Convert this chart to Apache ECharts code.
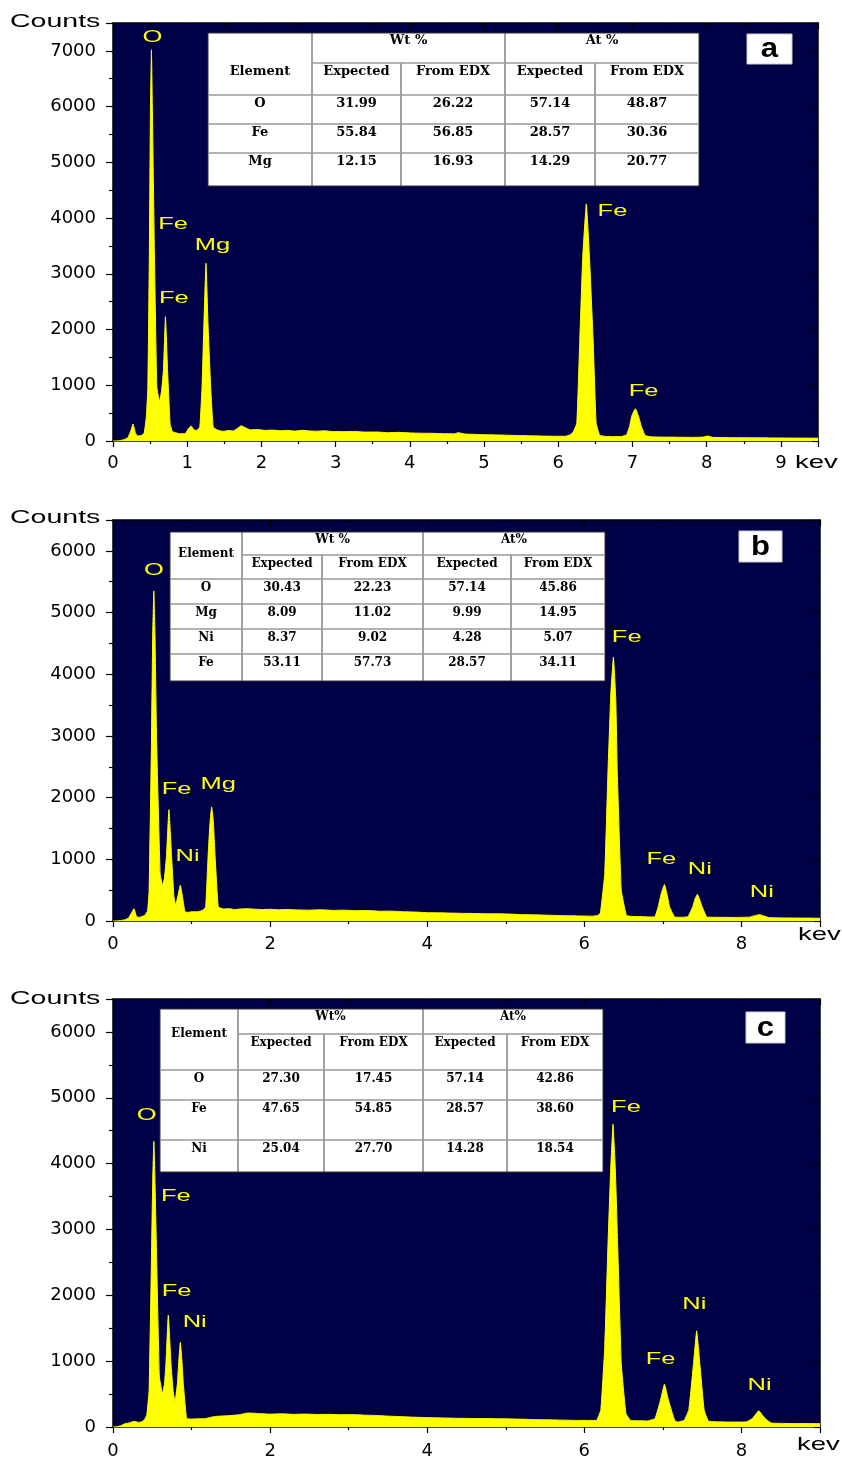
<!DOCTYPE html>
<html>
<head>
<meta charset="utf-8">
<script src="https://cdn.jsdelivr.net/npm/echarts@6/dist/echarts.min.js"></script>
<style>
  html, body { margin: 0; padding: 0; background: #fff; }
  #chart { width: 842px; height: 1461px; }
</style>
</head>
<body>
<div id="chart"></div>
<script>
// EDX spectra, [energy keV, counts]
const specA = [
  [0, 0], [0.05, 2], [0.1, 10], [0.15, 25], [0.2, 60], [0.24, 180], [0.27, 305], [0.3, 150], [0.33, 90],
  [0.38, 100], [0.42, 140], [0.45, 450], [0.47, 970], [0.49, 3370], [0.505, 6000], [0.518, 7020],
  [0.53, 6000], [0.558, 3370], [0.59, 970], [0.626, 705], [0.655, 900], [0.68, 1275], [0.707, 2230],
  [0.735, 1275], [0.77, 300], [0.8, 170], [0.84, 150], [0.9, 130], [0.97, 130], [1.02, 230], [1.054, 270],
  [1.09, 200], [1.13, 190], [1.17, 250], [1.2, 970], [1.225, 2100], [1.253, 3190], [1.28, 2100],
  [1.316, 970], [1.35, 250], [1.4, 200], [1.45, 180], [1.5, 175], [1.55, 190], [1.62, 180], [1.68, 230],
  [1.73, 275], [1.78, 240], [1.85, 200], [1.95, 205], [2.05, 190], [2.15, 196], [2.25, 185], [2.35, 190],
  [2.45, 178], [2.55, 192], [2.65, 180], [2.75, 176], [2.85, 184], [2.95, 170], [3.1, 168], [3.25, 172],
  [3.4, 160], [3.55, 162], [3.7, 150], [3.85, 155], [4.0, 145], [4.15, 140], [4.3, 138], [4.45, 132],
  [4.6, 128], [4.65, 150], [4.75, 125], [4.9, 118], [5.05, 112], [5.2, 108], [5.35, 102], [5.5, 98],
  [5.65, 92], [5.8, 88], [5.95, 85], [6.1, 85], [6.16, 110], [6.2, 160], [6.25, 320], [6.29, 1810],
  [6.33, 3310], [6.378, 4255], [6.42, 3310], [6.47, 1810], [6.51, 320], [6.56, 100], [6.65, 82],
  [6.75, 78], [6.85, 80], [6.92, 110], [6.96, 260], [6.99, 450], [7.04, 580], [7.08, 450], [7.12, 260],
  [7.17, 100], [7.25, 75], [7.4, 70], [7.6, 68], [7.8, 65], [7.95, 70], [8.02, 90], [8.08, 66], [8.3, 60],
  [8.6, 58], [8.9, 55], [9.2, 52], [9.5, 50]
];
const specB = [
  [0, 0], [0.05, 2], [0.1, 8], [0.15, 20], [0.2, 50], [0.24, 140], [0.267, 200], [0.3, 70], [0.34, 60],
  [0.4, 90], [0.44, 160], [0.46, 500], [0.49, 2930], [0.505, 4600], [0.52, 5350], [0.535, 4600],
  [0.555, 2930], [0.6, 760], [0.63, 580], [0.655, 700], [0.68, 1040], [0.712, 1805], [0.746, 1040],
  [0.775, 400], [0.797, 255], [0.825, 400], [0.857, 580], [0.89, 350], [0.916, 150], [0.96, 140],
  [1.0, 150], [1.08, 150], [1.15, 180], [1.18, 230], [1.21, 1040], [1.235, 1600], [1.256, 1850],
  [1.278, 1600], [1.3, 1040], [1.34, 230], [1.4, 195], [1.48, 200], [1.55, 185], [1.62, 195], [1.72, 200],
  [1.8, 192], [1.9, 186], [2.0, 190], [2.1, 182], [2.2, 188], [2.35, 180], [2.5, 176], [2.65, 182],
  [2.8, 172], [2.95, 175], [3.1, 168], [3.25, 170], [3.4, 158], [3.55, 160], [3.7, 150], [3.85, 145],
  [4.0, 135], [4.15, 132], [4.3, 128], [4.45, 124], [4.6, 122], [4.75, 118], [4.9, 116], [5.05, 112],
  [5.2, 104], [5.35, 100], [5.5, 95], [5.65, 90], [5.8, 86], [5.95, 82], [6.1, 78], [6.17, 90],
  [6.205, 130], [6.26, 770], [6.3, 2390], [6.338, 3700], [6.37, 4280], [6.4, 3600], [6.42, 2390],
  [6.47, 500], [6.535, 90], [6.6, 75], [6.75, 70], [6.85, 66], [6.9, 70], [6.94, 230], [6.98, 450],
  [7.02, 590], [7.05, 450], [7.085, 230], [7.15, 65], [7.25, 60], [7.32, 70], [7.38, 230], [7.41, 360],
  [7.44, 433], [7.47, 340], [7.5, 230], [7.56, 65], [7.7, 60], [7.9, 58], [8.1, 62], [8.18, 90],
  [8.23, 103], [8.28, 85], [8.35, 55], [8.5, 50], [8.7, 48], [9.0, 45]
];
const specC = [
  [0, 0], [0.05, 5], [0.1, 20], [0.15, 50], [0.2, 60], [0.25, 80], [0.28, 86], [0.32, 70], [0.36, 76],
  [0.4, 110], [0.43, 180], [0.46, 560], [0.49, 2590], [0.505, 3700], [0.52, 4340], [0.535, 3700],
  [0.555, 2590], [0.59, 760], [0.63, 508], [0.655, 650], [0.674, 965], [0.704, 1700], [0.738, 965],
  [0.765, 550], [0.789, 380], [0.82, 660], [0.84, 1050], [0.857, 1285], [0.875, 1050], [0.895, 660],
  [0.937, 130], [1.0, 120], [1.1, 125], [1.17, 127], [1.3, 160], [1.45, 170], [1.6, 185], [1.72, 213],
  [1.85, 205], [2.0, 195], [2.15, 200], [2.3, 192], [2.45, 196], [2.6, 190], [2.75, 192], [2.9, 186],
  [3.05, 188], [3.2, 180], [3.35, 175], [3.5, 165], [3.65, 158], [3.8, 150], [3.95, 145], [4.1, 140],
  [4.25, 136], [4.4, 132], [4.55, 130], [4.7, 128], [4.85, 126], [5.0, 124], [5.15, 120], [5.3, 115],
  [5.45, 110], [5.6, 108], [5.75, 104], [5.9, 100], [6.05, 100], [6.153, 100], [6.21, 260], [6.26, 1218],
  [6.3, 2740], [6.335, 3900], [6.365, 4600], [6.395, 3900], [6.425, 2740], [6.47, 965], [6.53, 200],
  [6.59, 100], [6.7, 95], [6.8, 92], [6.9, 130], [6.97, 410], [7.02, 650], [7.07, 410], [7.15, 100],
  [7.19, 75], [7.27, 100], [7.33, 260], [7.39, 965], [7.43, 1460], [7.47, 965], [7.525, 260], [7.58, 90],
  [7.7, 78], [7.85, 75], [8.0, 75], [8.07, 80], [8.14, 130], [8.22, 245], [8.3, 130], [8.38, 60],
  [8.5, 55], [8.7, 52], [9.0, 50]
];

// peak labels [keV, counts, element]
const peaksA = [[0.53, 7235, 'O'], [0.81, 3896, 'Fe'], [1.34, 3519, 'Mg'], [0.82, 2567, 'Fe'],
  [6.73, 4129, 'Fe'], [7.15, 898, 'Fe']];
const peaksB = [[0.52, 5687, 'O'], [0.81, 2139, 'Fe'], [1.34, 2220, 'Mg'], [0.95, 1050, 'Ni'],
  [6.54, 4600, 'Fe'], [6.98, 1003, 'Fe'], [7.47, 841, 'Ni'], [8.26, 467, 'Ni']];
const peaksC = [[0.43, 4729, 'O'], [0.8, 3508, 'Fe'], [0.81, 2062, 'Fe'], [1.04, 1590, 'Ni'],
  [6.53, 4851, 'Fe'], [7.4, 1868, 'Ni'], [6.97, 1030, 'Fe'], [8.23, 634, 'Ni']];

// composition tables
const groupHeadA = ['Wt %', 'At %'];
const groupHeadB = ['Wt %', 'At%'];
const groupHeadC = ['Wt%', 'At%'];
const subHead = ['Expected', 'From EDX', 'Expected', 'From EDX'];
const rowsA = [['O', '31.99', '26.22', '57.14', '48.87'], ['Fe', '55.84', '56.85', '28.57', '30.36'],
  ['Mg', '12.15', '16.93', '14.29', '20.77']];
const rowsB = [['O', '30.43', '22.23', '57.14', '45.86'], ['Mg', '8.09', '11.02', '9.99', '14.95'],
  ['Ni', '8.37', '9.02', '4.28', '5.07'], ['Fe', '53.11', '57.73', '28.57', '34.11']];
const rowsC = [['O', '27.30', '17.45', '57.14', '42.86'], ['Fe', '47.65', '54.85', '28.57', '38.60'],
  ['Ni', '25.04', '27.70', '14.28', '18.54']];
const panelLetters = ['a', 'b', 'c'];

const NAVY = '#000046';
const YEL = '#ffff00';

const panels = [
  { spec: specA, peaks: peaksA, head: groupHeadA, rows: rowsA, xMax: 9.5, xStep: 1, yMax: 7500,
    grid: { left: 113, top: 23, width: 705, height: 418 }, xMargin: 13,
    table: { cols: [208, 312, 401, 505, 595, 699], rows: [33, 63, 95, 124, 153, 186], elemY: 72, font: 13 },
    box: [747, 34, 45, 30], counts: 22, kev: [795, 463] },
  { spec: specB, peaks: peaksB, head: groupHeadB, rows: rowsB, xMax: 9, xStep: 2, yMax: 6500,
    grid: { left: 113, top: 520, width: 707, height: 401 }, xMargin: 14,
    table: { cols: [170, 242, 322, 423, 511, 605], rows: [532, 555, 579, 604, 629, 654, 681], elemY: 554, font: 12 },
    box: [739, 531, 43, 31], counts: 518, kev: [798, 935] },
  { spec: specC, peaks: peaksC, head: groupHeadC, rows: rowsC, xMax: 9, xStep: 2, yMax: 6500,
    grid: { left: 113, top: 999, width: 707, height: 428 }, xMargin: 15,
    table: { cols: [160, 238, 324, 423, 507, 603], rows: [1009, 1034, 1070, 1100, 1140, 1172], elemY: 1034, font: 12 },
    box: [746, 1012, 39, 31], counts: 999, kev: [797, 1445] }
];

const axisLine = { onZero: false, lineStyle: { color: '#000', width: 1.5 } };
const tickLine = { color: '#000', width: 1.2 };
const plain = v => String(v);

let grids = [], xAxes = [], yAxes = [], series = [];
panels.forEach((p, i) => {
  grids.push(Object.assign({ show: true, backgroundColor: NAVY, borderWidth: 0 }, p.grid));
  xAxes.push({
    gridIndex: i, type: 'value', min: 0, max: p.xMax, interval: p.xStep, position: 'bottom',
    axisLine: axisLine, splitLine: { show: false },
    axisTick: { length: 6, lineStyle: tickLine },
    minorTick: { show: true, splitNumber: 2, length: 3, lineStyle: tickLine },
    axisLabel: { showMaxLabel: false, formatter: plain, color: '#000', fontSize: 18, fontFamily: 'DejaVu Sans', margin: p.xMargin }
  }, {
    gridIndex: i, type: 'value', min: 0, max: p.xMax, interval: p.xStep, position: 'top',
    axisLine: axisLine, splitLine: { show: false },
    axisTick: { inside: true, length: 6, lineStyle: tickLine },
    minorTick: { show: true, splitNumber: 2, length: 3, lineStyle: tickLine },
    axisLabel: { show: false }
  });
  yAxes.push({
    gridIndex: i, type: 'value', min: 0, max: p.yMax, interval: 1000, position: 'left',
    axisLine: axisLine, splitLine: { show: false },
    axisTick: { length: 7, lineStyle: tickLine },
    minorTick: { show: true, splitNumber: 2, length: 4, lineStyle: tickLine },
    axisLabel: { showMaxLabel: false, formatter: plain, color: '#000', fontSize: 18, fontFamily: 'DejaVu Sans', margin: 17 }
  }, {
    gridIndex: i, type: 'value', min: 0, max: p.yMax, interval: 1000, position: 'right',
    axisLine: axisLine, splitLine: { show: false },
    axisTick: { inside: true, length: 6, lineStyle: tickLine },
    minorTick: { show: true, splitNumber: 2, length: 3, lineStyle: tickLine },
    axisLabel: { show: false }
  });
  series.push({
    type: 'line', xAxisIndex: 2 * i, yAxisIndex: 2 * i, data: p.spec,
    symbol: 'none', smooth: 0.1, z: 1,
    lineStyle: { color: YEL, width: 1 },
    areaStyle: { color: YEL, opacity: 1 }
  });
});

const chart = echarts.init(document.getElementById('chart'));
chart.setOption({
  animation: false,
  textStyle: { fontFamily: 'DejaVu Sans' },
  grid: grids, xAxis: xAxes, yAxis: yAxes, series: series
});

function txt(x, y, text, font, fill, align, sx) {
  return { type: 'text', x: x, y: y, scaleX: sx || 1, z: 100,
    style: { text: text, font: font, fill: fill, align: align || 'center', verticalAlign: 'middle' } };
}
function line(x1, y1, x2, y2, color, w) {
  return { type: 'line', z: 101, shape: { x1: x1, y1: y1, x2: x2, y2: y2 },
    style: { stroke: color, lineWidth: w } };
}

let elements = [];
panels.forEach((p, i) => {
  const t = p.table, c = t.cols, r = t.rows;
  const last = r.length - 1;
  const serif = 'bold ' + t.font + 'px "DejaVu Serif"';
  elements.push({ type: 'rect', z: 99, shape: { x: c[0], y: r[0], width: c[5] - c[0], height: r[last] - r[0] },
    style: { fill: '#fff', stroke: '#333', lineWidth: 1 } });
  // vertical rules
  elements.push(line(c[1], r[0], c[1], r[last], '#444', 1));
  elements.push(line(c[3], r[0], c[3], r[last], '#444', 1));
  elements.push(line(c[2], r[1], c[2], r[last], '#444', 1));
  elements.push(line(c[4], r[1], c[4], r[last], '#444', 1));
  // horizontal rules
  elements.push(line(c[1], r[1], c[5], r[1], '#999', 1.5));
  for (let k = 2; k < last; k++) elements.push(line(c[0], r[k], c[5], r[k], '#999', 1.5));
  // headers
  elements.push(txt((c[1] + c[3]) / 2, r[0] + 8, p.head[0], serif, '#000'));
  elements.push(txt((c[3] + c[5]) / 2, r[0] + 8, p.head[1], serif, '#000'));
  elements.push(txt((c[0] + c[1]) / 2, t.elemY, 'Element', serif, '#000'));
  subHead.forEach((s, j) => elements.push(txt((c[j + 1] + c[j + 2]) / 2, r[1] + 9, s, serif, '#000')));
  p.rows.forEach((row, k) => {
    row.forEach((v, j) => elements.push(txt((c[j] + c[j + 1]) / 2, r[2 + k] + 9, v, serif, '#000')));
  });
  // panel letter
  const b = p.box;
  elements.push({ type: 'rect', z: 99, shape: { x: b[0], y: b[1], width: b[2], height: b[3] },
    style: { fill: '#fff', stroke: '#ccc', lineWidth: 1 } });
  elements.push(txt(b[0] + b[2] / 2, b[1] + b[3] / 2 + 1, panelLetters[i], 'bold 27px "Liberation Sans"', '#000', 'center', 1.15));
  // axis titles
  elements.push(txt(10, p.counts, 'Counts', '19px "Liberation Sans"', '#000', 'left', 1.5));
  elements.push(txt(p.kev[0], p.kev[1], 'kev', '19px "Liberation Sans"', '#000', 'left', 1.45));
  // peak labels, placed through the panel's axes
  p.peaks.forEach(pk => {
    const pt = chart.convertToPixel({ xAxisIndex: 2 * i, yAxisIndex: 2 * i }, [pk[0], pk[1]]);
    elements.push(txt(pt[0], pt[1], pk[2], '17px "Liberation Sans"', YEL, 'center', 1.5));
  });
});

chart.setOption({ graphic: { elements: elements } });
</script>
</body>
</html>
